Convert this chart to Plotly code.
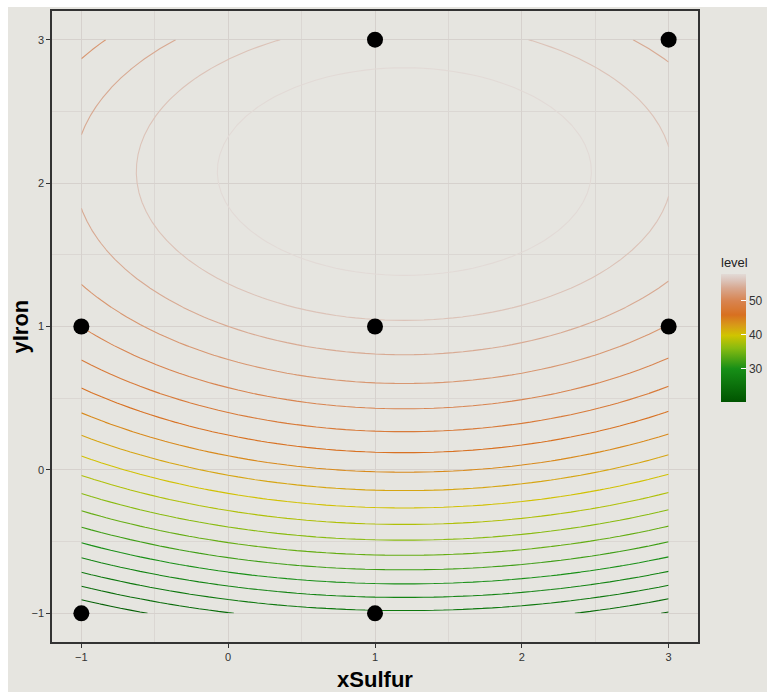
import numpy as np
import plotly.graph_objects as go

# Design points (coded units) and the measured response at each run
x_sulfur = [1, 3, -1, 1, 3, -1, 1]
y_iron = [3, 3, 1, 1, 1, -1, -1]
response = [56.79, 53.05, 50.02, 55.63, 51.89, 19.92, 25.53]

# Contour levels shown on the plot
level_start, level_end, level_step = 20, 58, 2
legend_ticks = [30, 40, 50]
x_ticks = [-1, 0, 1, 2, 3]
y_ticks = [-1, 0, 1, 2, 3]

# Second-order response surface fitted to the runs
xs = np.array(x_sulfur, float)
ys = np.array(y_iron, float)
design = np.column_stack([np.ones_like(xs), xs, ys, xs**2, ys**2, xs * ys])
coef, *_ = np.linalg.lstsq(design, np.array(response), rcond=None)

gx = np.linspace(-1, 3, 61)
gy = np.linspace(-1, 3, 61)
GX, GY = np.meshgrid(gx, gy)
GZ = (coef[0] + coef[1] * GX + coef[2] * GY + coef[3] * GX**2
      + coef[4] * GY**2 + coef[5] * GX * GY)

level_colors = [
    [0.00, "#005400"],
    [0.26, "#178f17"],
    [0.42, "#88bb10"],
    [0.52, "#d0c400"],
    [0.60, "#d89a18"],
    [0.68, "#d87020"],
    [0.79, "#d88450"],
    [0.89, "#d8a890"],
    [0.95, "#dcc4ba"],
    [1.00, "#e2dad6"],
]

bg = "#e6e5e0"
font = "Liberation Sans, Arial, sans-serif"

# Panel geometry in pixels
W, H = 767, 692
ml, mr, mt, mb = 52, 69, 11, 50
pw, ph = W - ml - mr, H - mt - mb

fig = go.Figure()

fig.add_trace(go.Contour(
    x=gx, y=gy, z=GZ,
    zmin=level_start, zmax=level_end, zauto=False,
    autocontour=False,
    contours=dict(start=level_start, end=level_end, size=level_step,
                  coloring="lines", showlabels=False),
    colorscale=level_colors,
    line=dict(width=1.1, smoothing=0),
    showscale=False,
    hoverinfo="skip",
))

fig.add_trace(go.Scatter(
    x=x_sulfur, y=y_iron, mode="markers",
    marker=dict(size=16, color="black"),
    showlegend=False, hoverinfo="skip",
))

# Continuous colour bar for the contour level
fig.add_trace(go.Scatter(
    x=[None], y=[None], mode="markers",
    marker=dict(
        color=[level_start, level_end], cmin=level_start, cmax=level_end,
        colorscale=level_colors, showscale=True,
        colorbar=dict(
            title=dict(text="level", side="top",
                       font=dict(family=font, size=13, color="#222222")),
            x=(721 - ml) / pw, xanchor="left", xpad=0,
            y=1 - (402 - mt) / ph, yanchor="bottom", ypad=0,
            lenmode="pixels", len=148, thickness=25,
            outlinewidth=0, tickvals=legend_ticks,
            ticks="inside", ticklen=5, tickcolor="white", tickwidth=1,
            tickfont=dict(family=font, size=12, color="#333333"),
            bgcolor="rgba(0,0,0,0)",
        ),
    ),
    showlegend=False, hoverinfo="skip",
))

axis_common = dict(
    showline=True, linecolor="#333333", linewidth=1.5, mirror=True,
    ticks="outside", ticklen=4, tickcolor="#333333", tickwidth=1,
    showgrid=True, gridcolor="#d6d1cd", gridwidth=1.2,
    minor=dict(showgrid=True, gridcolor="#dbd7d3", gridwidth=0.9, dtick=0.5),
    zeroline=False, automargin=False,
    tickfont=dict(family=font, size=11, color="#333333"),
)

fig.update_xaxes(
    range=[-1.2, 3.2], tickvals=x_ticks,
    title=dict(text="<b>xSulfur</b>", standoff=12,
               font=dict(family=font, size=22, color="black")),
    **axis_common,
)
fig.update_yaxes(range=[-1.2, 3.2], tickvals=y_ticks, **axis_common)

fig.update_layout(
    width=W, height=H,
    margin=dict(l=ml, r=mr, t=mt, b=mb, autoexpand=False),
    paper_bgcolor="white", plot_bgcolor=bg,
    shapes=[dict(type="rect", xref="paper", yref="paper",
                 x0=(8 - ml) / pw, x1=1.2, y0=-0.2, y1=1 + (mt - 7) / ph,
                 fillcolor=bg, line=dict(width=0), layer="below")],
    annotations=[dict(text="<b>yIron</b>", textangle=-90,
                      xref="paper", yref="paper",
                      x=(20 - ml) / pw, y=0.5,
                      xanchor="center", yanchor="middle", showarrow=False,
                      font=dict(family=font, size=22, color="black"))],
    showlegend=False,
)

fig.write_html("out.html")
